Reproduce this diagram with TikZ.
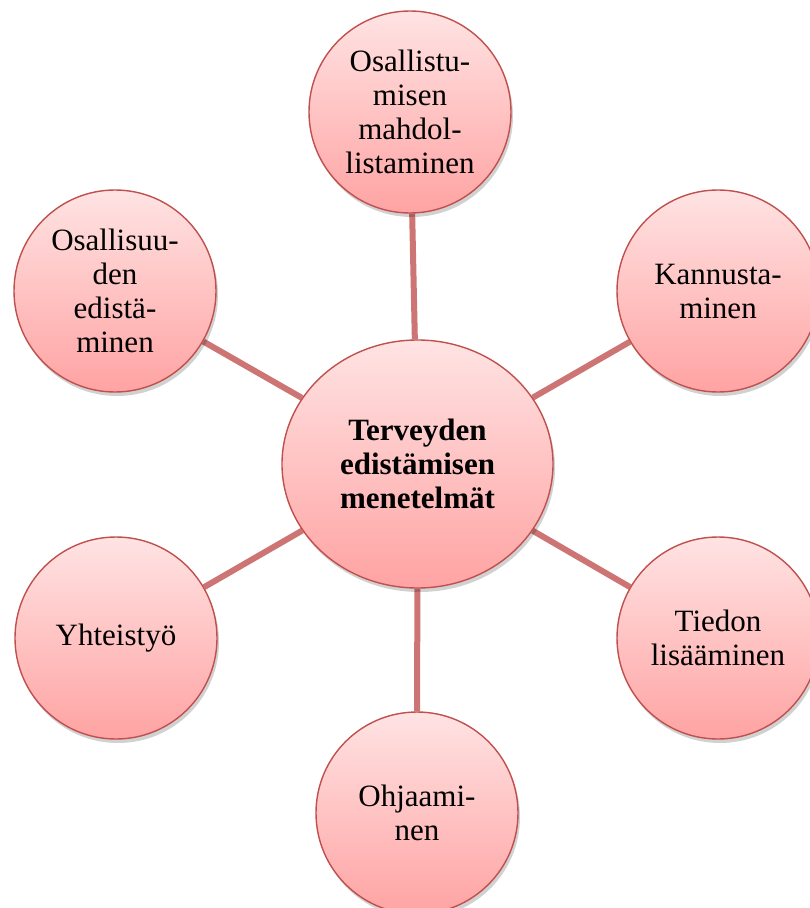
\documentclass[tikz,border=0pt]{standalone}
\usepackage{fontspec}
\setmainfont{Liberation Serif}
\usetikzlibrary{shapes.geometric,shadows,backgrounds}
\definecolor{rimred}{HTML}{C0504D}
\definecolor{toppink}{HTML}{FFE3E3}
\definecolor{botpink}{HTML}{FFA3A3}
\definecolor{linkred}{HTML}{CD7575}
\tikzset{
  bubble/.style={circle, draw=rimred, line width=1.4pt, minimum size=202pt,
    inner sep=0pt, top color=toppink, bottom color=botpink, align=center,
    font=\fontsize{31}{34}\selectfont,
    drop shadow={shadow xshift=2pt, shadow yshift=-4pt, opacity=0.18, fill=black}},
  hub/.style={ellipse, draw=rimred, line width=1.4pt, minimum width=271pt,
    minimum height=248pt, inner sep=0pt, top color=toppink, bottom color=botpink,
    align=center, font=\fontsize{31}{34}\selectfont\bfseries,
    drop shadow={shadow xshift=2pt, shadow yshift=-4pt, opacity=0.18, fill=black}},
  link/.style={draw=linkred, line width=6pt}
}
\begin{document}
\begin{tikzpicture}[x=1pt,y=-1pt]
\useasboundingbox (0,0) rectangle (810,908);
\node[hub] (c) at (417.5,464) {Terveyden\\edistämisen\\menetelmät};
\node[bubble] (t) at (410,112) {Osallistu-\\misen\\mahdol-\\listaminen};
\node[bubble] (tr) at (718,291) {Kannusta-\\minen};
\node[bubble] (br) at (718,638) {Tiedon\\lisääminen};
\node[bubble] (b) at (417,813) {Ohjaami-\\nen};
\node[bubble] (bl) at (116,638) {Yhteistyö};
\node[bubble] (tl) at (115,291) {Osallisuu-\\den\\edistä-\\minen};
\begin{scope}[on background layer]
\draw[link] (c) -- (t);
\draw[link] (c) -- (tr);
\draw[link] (c) -- (br);
\draw[link] (c) -- (b);
\draw[link] (c) -- (bl);
\draw[link] (c) -- (tl);
\end{scope}
\end{tikzpicture}
\end{document}
